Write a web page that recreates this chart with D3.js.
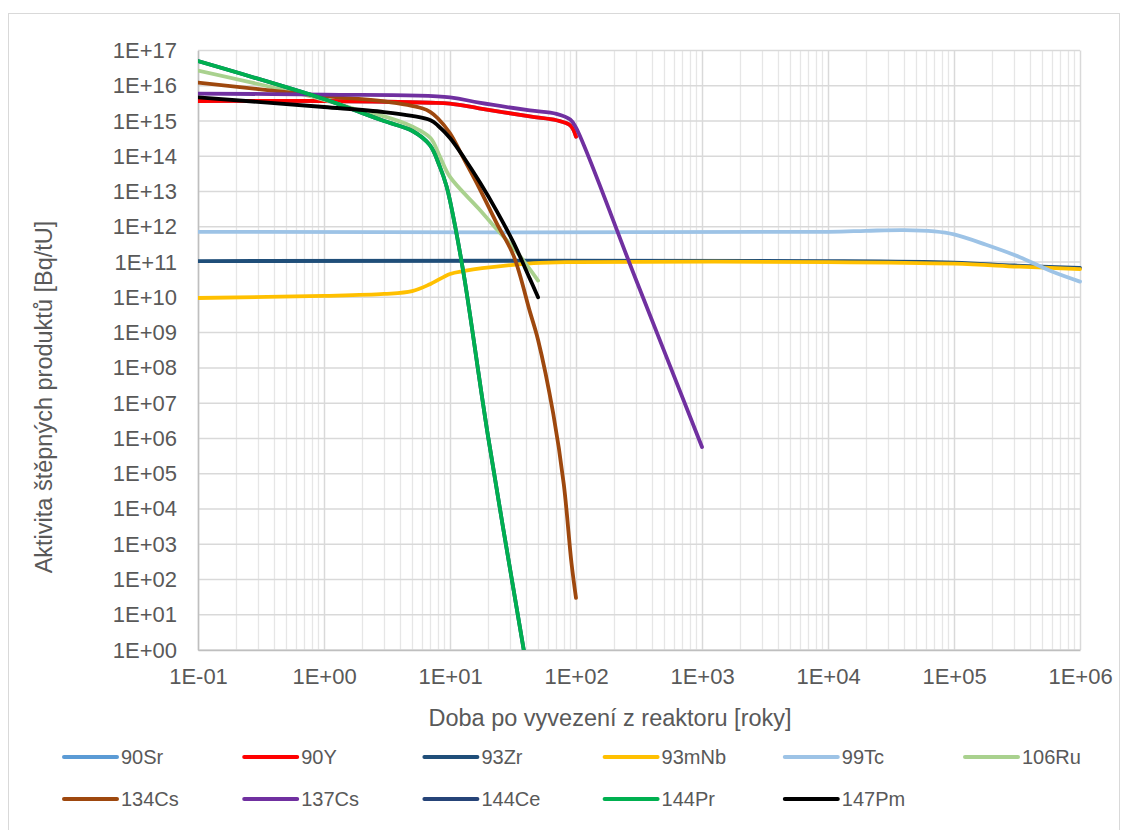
<!DOCTYPE html>
<html>
<head>
<meta charset="utf-8">
<script src="https://cdn.jsdelivr.net/npm/d3@7"></script>
<style>
  body { margin: 0; background: #fff; }
  text { font-family: "Liberation Sans", Arial, sans-serif; fill: #595959; }
</style>
</head>
<body>
<div id="chart"></div>
<script>
// nuclides, in legend order
var names = ["90Sr", "90Y", "93Zr", "93mNb", "99Tc", "106Ru", "134Cs", "137Cs", "144Ce", "144Pr", "147Pm"];

// time after discharge [years] and activity [Bq/tU]
var t90Sr = [0.1, 1, 7, 10, 17, 43, 70, 90, 100];
var a90Sr = [3.7e15, 3.7e15, 3.3e15, 3.1e15, 2.3e15, 1.35e15, 1.05e15, 7.5e14, 3.6e14];

var t90Y = [0.1, 1, 7, 10, 17, 43, 70, 90, 100];
var a90Y = [3.7e15, 3.7e15, 3.3e15, 3.1e15, 2.3e15, 1.35e15, 1.05e15, 7.5e14, 3.6e14];

var t93Zr = [0.1, 1e4, 1e5, 3e5, 1e6];
var a93Zr = [1.07e11, 1.07e11, 9.7e10, 8.0e10, 6.8e10];

var t93mNb = [0.1, 1, 3, 5, 7, 10, 13, 18, 46, 100, 1e4, 1e5, 3.3e5, 1e6];
var a93mNb = [9.6e9, 1.1e10, 1.25e10, 1.5e10, 2.4e10, 4.6e10, 5.6e10, 6.7e10, 9.3e10, 1.0e11, 1.0e11, 9.0e10, 7.4e10, 6.3e10];

var t99Tc = [0.1, 1e4, 2e4, 4e4, 7e4, 1e5, 1.8e5, 3.3e5, 6e5, 1e6];
var a99Tc = [7.2e11, 7.2e11, 7.7e11, 8.1e11, 7.4e11, 6.1e11, 3.1e11, 1.4e11, 5.4e10, 2.8e10];

var t106Ru = [0.1, 1, 2, 3, 5, 7, 8.3, 10, 17, 23.5, 32, 50];
var a106Ru = [2.7e16, 4.0e15, 1.9e15, 1.35e15, 7.0e14, 3.3e14, 1.0e14, 2.6e13, 3.2e12, 8.5e11, 2.5e11, 3.0e10];

var t134Cs = [0.1, 1, 3, 6, 7, 8, 10, 13, 17, 23.5, 32, 43, 50, 66, 80, 92, 100];
var a134Cs = [1.23e16, 5.1e15, 3.6e15, 2.3e15, 1.8e15, 1.2e15, 4.5e14, 7.9e13, 1.3e13, 1.25e12, 1.5e11, 4.0e9, 6.2e8, 5.0e6, 5.0e4, 3.0e2, 30];

var t137Cs = [0.1, 1, 10, 17, 43, 70, 90, 100, 300, 1000];
var a137Cs = [6.0e15, 5.6e15, 4.7e15, 3.3e15, 2.0e15, 1.6e15, 1.1e15, 6.5e14, 3.1e10, 5.7e5];

var t144Ce = [0.1, 1, 2, 3, 5, 6.9, 8.3, 9.4, 10, 12.8, 20, 38.5];
var a144Ce = [5.0e16, 4.2e15, 1.7e15, 1.0e15, 5.3e14, 2.1e14, 5.1e13, 1.4e13, 5.5e12, 4.9e10, 1.2e6, 1];

var t144Pr = [0.1, 1, 2, 3, 5, 6.9, 8.3, 9.4, 10, 12.8, 20, 38.5];
var a144Pr = [5.0e16, 4.2e15, 1.7e15, 1.0e15, 5.3e14, 2.1e14, 5.1e13, 1.4e13, 5.5e12, 4.9e10, 1.2e6, 1];

var t147Pm = [0.1, 1, 3, 5, 7, 8, 10, 13, 17.3, 23.5, 32, 43, 50];
var a147Pm = [4.7e15, 2.5e15, 1.8e15, 1.4e15, 1.05e15, 7.5e14, 3.3e14, 8.8e13, 1.8e13, 2.8e12, 3.5e11, 3.4e10, 1.0e10];

var xTicks = [1e-1, 1e0, 1e1, 1e2, 1e3, 1e4, 1e5, 1e6];
var yTicks = d3.range(0, 18).map(function(e) { return Math.pow(10, e); });

var xTitle = "Doba po vyvezení z reaktoru [roky]";
var yTitle = "Aktivita štěpných produktů [Bq/tU]";

// table built from the arrays above
var times = {"90Sr": t90Sr, "90Y": t90Y, "93Zr": t93Zr, "93mNb": t93mNb, "99Tc": t99Tc, "106Ru": t106Ru,
             "134Cs": t134Cs, "137Cs": t137Cs, "144Ce": t144Ce, "144Pr": t144Pr, "147Pm": t147Pm};
var acts = {"90Sr": a90Sr, "90Y": a90Y, "93Zr": a93Zr, "93mNb": a93mNb, "99Tc": a99Tc, "106Ru": a106Ru,
            "134Cs": a134Cs, "137Cs": a137Cs, "144Ce": a144Ce, "144Pr": a144Pr, "147Pm": a147Pm};

var colors = {"90Sr": "#5B9BD5", "90Y": "#FF0000", "93Zr": "#1F4E79", "93mNb": "#FFC000", "99Tc": "#9DC3E6",
              "106Ru": "#A9D18E", "134Cs": "#9E480E", "137Cs": "#7030A0", "144Ce": "#264478",
              "144Pr": "#00B050", "147Pm": "#000000"};

var series = names.map(function(n) {
    return {name: n, values: times[n].map(function(t, i) { return [t, acts[n][i]]; })};
});

// plot area
var W = 1128, H = 830;
var plot = {left: 198, right: 1080, top: 50.5, bottom: 650};

var svg = d3.select("#chart")
    .append("svg")
    .attr("width", W)
    .attr("height", H);

svg.append("rect")
    .attr("x", 8.5).attr("y", 13.5)
    .attr("width", 1111).attr("height", 840)
    .attr("fill", "#fff")
    .attr("stroke", "#d9d9d9");

var x = d3.scaleLog().domain([1e-1, 1e6]).range([plot.left, plot.right]);
var y = d3.scaleLog().domain([1, 1e17]).range([plot.bottom, plot.top]);

function expo(v) {
    var e = Math.round(Math.log10(v));
    var s = Math.abs(e) < 10 ? "0" + Math.abs(e) : "" + Math.abs(e);
    return "1E" + (e < 0 ? "-" : "+") + s;
}

// minor vertical grid
var minor = x.ticks().filter(function(v) {
    return Math.abs(Math.log10(v) - Math.round(Math.log10(v))) > 1e-6;
});
svg.append("g")
    .selectAll("line")
    .data(minor)
    .enter().append("line")
    .attr("x1", function(d) { return Math.round(x(d)) + 0.5; })
    .attr("x2", function(d) { return Math.round(x(d)) + 0.5; })
    .attr("y1", plot.top).attr("y2", plot.bottom)
    .attr("stroke", "#e6e6e6")
    .attr("stroke-width", 1.3);

// major grid
svg.append("g")
    .selectAll("line")
    .data(xTicks)
    .enter().append("line")
    .attr("x1", function(d) { return Math.round(x(d)) + 0.5; })
    .attr("x2", function(d) { return Math.round(x(d)) + 0.5; })
    .attr("y1", plot.top).attr("y2", plot.bottom)
    .attr("stroke", "#d9d9d9")
    .attr("stroke-width", 1.5);

svg.append("g")
    .selectAll("line")
    .data(yTicks)
    .enter().append("line")
    .attr("x1", plot.left).attr("x2", plot.right)
    .attr("y1", function(d) { return y(d); })
    .attr("y2", function(d) { return y(d); })
    .attr("stroke", "#d9d9d9")
    .attr("stroke-width", 1.5);

// axes
var xAxis = svg.append("g")
    .attr("transform", "translate(0," + plot.bottom + ")")
    .call(d3.axisBottom(x).tickValues(xTicks).tickFormat(expo).tickSize(0).tickPadding(18));
xAxis.select(".domain").attr("stroke", "#bfbfbf").attr("stroke-width", 1.5);
xAxis.selectAll("text").style("font-size", "22px").attr("fill", "#595959")
    .style("font-family", "'Liberation Sans', Arial, sans-serif");

var yAxis = svg.append("g")
    .attr("transform", "translate(" + plot.left + ",0)")
    .call(d3.axisLeft(y).tickValues(yTicks).tickFormat(expo).tickSize(0).tickPadding(21));
yAxis.select(".domain").attr("stroke", "#bfbfbf").attr("stroke-width", 1.5);
yAxis.selectAll("text").style("font-size", "22px").attr("fill", "#595959")
    .style("font-family", "'Liberation Sans', Arial, sans-serif");

// lines
svg.append("clipPath").attr("id", "plotclip")
    .append("rect").attr("x", plot.left).attr("y", plot.top - 10)
    .attr("width", plot.right - plot.left + 5).attr("height", plot.bottom - plot.top + 10);

var line = d3.line()
    .curve(d3.curveCatmullRom.alpha(0.5))
    .x(function(d) { return x(d[0]); })
    .y(function(d) { return y(d[1]); });

svg.append("g")
    .attr("clip-path", "url(#plotclip)")
    .selectAll("path")
    .data(series)
    .enter().append("path")
    .attr("fill", "none")
    .attr("stroke", function(d) { return colors[d.name]; })
    .attr("stroke-width", 3.8)
    .attr("stroke-linejoin", "round")
    .attr("stroke-linecap", "round")
    .attr("d", function(d) { return line(d.values); });

// axis titles
svg.append("text")
    .attr("x", 610).attr("y", 726)
    .style("text-anchor", "middle")
    .style("font-size", "23.5px")
    .text(xTitle);

svg.append("text")
    .attr("transform", "translate(52,397) rotate(-90)")
    .style("text-anchor", "middle")
    .style("font-size", "23.5px")
    .text(yTitle);

// legend
var legend = svg.append("g")
    .selectAll("g")
    .data(names)
    .enter().append("g")
    .attr("transform", function(d, i) {
        return "translate(" + (64 + (i % 6) * 180.2) + "," + (757 + Math.floor(i / 6) * 42) + ")";
    });
legend.append("line")
    .attr("x1", 0).attr("x2", 53)
    .attr("stroke", function(d) { return colors[d]; })
    .attr("stroke-width", 4)
    .attr("stroke-linecap", "round");
legend.append("text")
    .attr("x", 57).attr("dy", "0.35em")
    .style("font-size", "20px")
    .text(function(d) { return d; });
</script>
</body>
</html>
